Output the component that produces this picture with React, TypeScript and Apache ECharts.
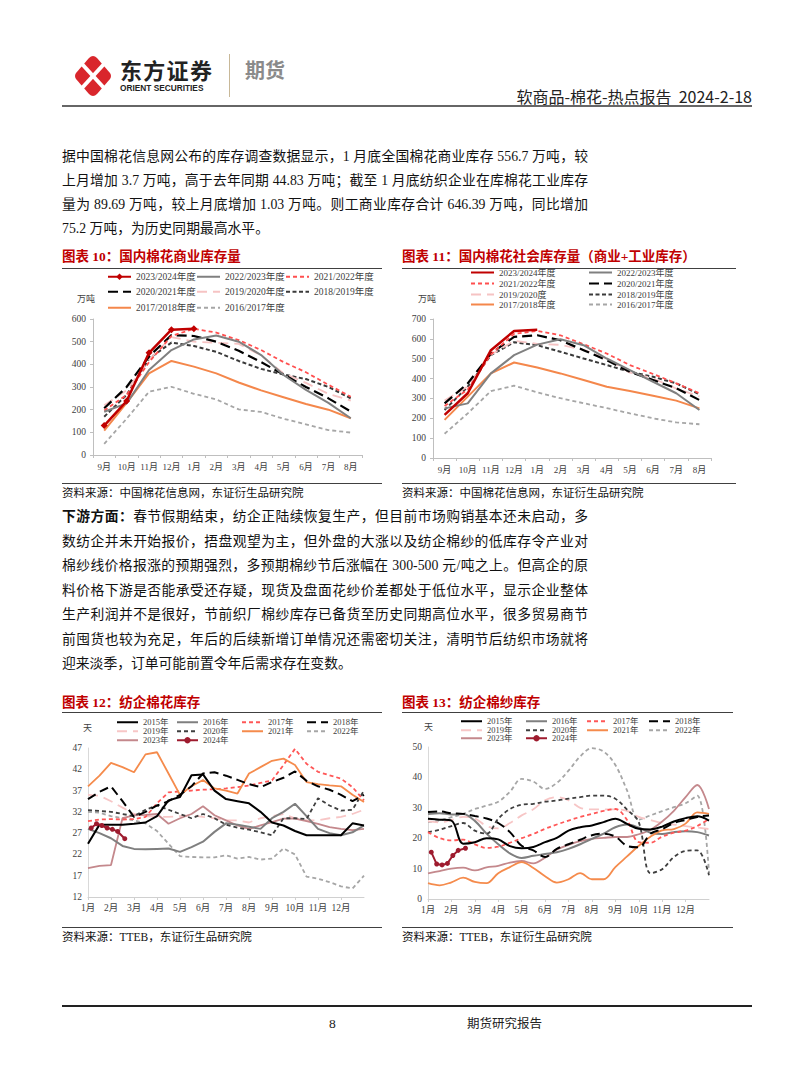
import React, { useEffect, useRef } from 'react';
import * as echarts from 'echarts';

const SERIF = '"Liberation Serif", "Times New Roman", "Noto Sans CJK SC", serif';
const SANS = '"Noto Sans CJK SC", "Noto Sans", sans-serif';

// ---------- 图表10 / 图表11 : 季度月份 ----------
const SEASON_MONTHS = ['9月', '10月', '11月', '12月', '1月', '2月', '3月', '4月', '5月', '6月', '7月', '8月'];

// 图表10 国内棉花商业库存量 (万吨)
const COMM_2324 = [130, 238, 451, 553, 557, null, null, null, null, null, null, null];
const COMM_2223 = [191, 228, 375, 463, 510, 527, 500, 441, 353, 287, 230, 162];
const COMM_2122 = [196, 265, 410, 525, 557, 540, 507, 463, 410, 365, 310, 257];
const COMM_2021 = [206, 300, 435, 529, 525, 500, 460, 410, 355, 300, 250, 192];
const COMM_1920 = [220, 285, 420, 520, 500, 495, 490, 440, 360, 318, 270, 240];
const COMM_1819 = [169, 265, 425, 496, 481, 455, 415, 380, 355, 335, 300, 250];
const COMM_1718 = [107, 230, 360, 415, 390, 360, 320, 285, 255, 225, 200, 162];
const COMM_1617 = [49, 160, 279, 301, 270, 245, 201, 190, 160, 135, 110, 99];

// 图表11 国内棉花社会库存量 (万吨)
const SOC_2324 = [217, 326, 543, 640, 646, null, null, null, null, null, null, null];
const SOC_2223 = [250, 275, 426, 518, 571, 598, 568, 501, 443, 384, 326, 242];
const SOC_2122 = [262, 345, 522, 625, 640, 618, 573, 526, 468, 423, 376, 326];
const SOC_2021 = [275, 376, 526, 610, 618, 593, 543, 493, 434, 393, 351, 292];
const SOC_1920 = [290, 360, 520, 590, 575, 570, 545, 500, 430, 400, 350, 310];
const SOC_1819 = [242, 359, 518, 583, 568, 535, 501, 468, 434, 409, 376, 321];
const SOC_1718 = [192, 309, 426, 481, 456, 426, 393, 359, 337, 314, 289, 250];
const SOC_1617 = [122, 225, 337, 364, 331, 301, 276, 251, 225, 200, 179, 170];

// ---------- 图表12 / 图表13 : 半月位置 (月) ----------
const HALF_MONTHS = [0, 0.5, 1, 1.5, 2, 2.5, 3, 3.5, 4, 4.5, 5, 5.5, 6, 6.5, 7, 7.5, 8, 8.5, 9, 9.5, 10, 10.5, 11, 11.5, 12];
const WEEKS_2024 = [0.14, 0.37, 0.6, 0.83, 1.06, 1.29, 1.6];
const MONTH_TICKS = ['1月', '2月', '3月', '4月', '5月', '6月', '7月', '8月', '9月', '10月', '11月', '12月'];

// 图表12 纺企棉花库存 (天)
const COT_2015 = [24.5, 29, 29, 29, 29.2, 29.5, 31, 34.7, 35.5, 40.6, 40.8, 37, 35, 34.5, 34, 32, 29.5, 28.8, 27.5, 26.5, 26.5, 26.5, 26.5, 29.3, 28.8];
const COT_2016 = [28, 27, 25.8, 24, 23.3, 23.2, 23.3, 23.4, 22.6, 23.7, 25, 27.3, 29.3, 29, 28.5, 28, 30.5, 32, 33.9, 31, 28, 27, 26.5, 27.2, 28.8];
const COT_2017 = [29.8, 30.2, 30.3, 30.2, 30.3, 30.8, 34, 36.6, 36.8, 37, 37.2, 37.3, 37.5, 37.8, 38.2, 38.8, 39.4, 43, 46.8, 43.3, 41.4, 40.6, 39.8, 37.8, 34.7];
const COT_2018 = [35, 36.7, 38, 34.5, 30.8, 32, 33.5, 34.5, 36, 38, 41, 41.3, 40.5, 39.5, 38.5, 37.8, 39, 40, 41.5, 39.3, 38, 37.2, 36, 34.5, 36];
const COT_2019 = [36, 35.8, 34.5, 33, 31.5, 31, 30.8, 30.8, 31, 31.2, 30.8, 30.5, 30, 30, 29.5, 30.5, 31, 31.5, 30.5, 30, 30, 30.5, 30.8, 31.5, 32.5];
const COT_2020 = [32.4, 32.2, 32, 31.5, 31, 32.5, 33.5, 32.5, 31.5, 30.5, 31.5, 30.5, 29, 28.3, 27.8, 27.2, 26.5, 30.5, 30.5, 30.3, 35.2, 33.5, 32.3, 32.5, 37];
const COT_2021 = [38, 40.5, 43.5, 42.5, 41.3, 45.5, 46, 41, 36, 38, 39.5, 37.5, 37, 36.3, 41, 42.5, 44, 44.5, 43, 39, 38.5, 38.2, 38, 36, 34.3];
const COT_2022 = [32, 31.8, 31, 30.5, 30, 29.3, 27.5, 24.5, 21.6, 21.4, 21.3, 21.3, 21.8, 21, 21.4, 20.8, 21, 23.4, 22, 16.8, 16.3, 15.5, 14.5, 14, 17];
const COT_2023 = [18.8, 19.3, 19.5, 30.5, 31.2, 31.3, 31.5, 29.2, 30.5, 31.5, 33.3, 31.2, 30, 28.8, 28, 28.8, 29.6, 30.4, 30.4, 29.8, 29.2, 28.4, 28, 27.7, 28];
const COT_2024 = [28.2, 29.2, 28.8, 28.2, 27.9, 27.4, 25.7];

// 图表13 纺企棉纱库存 (天)
const YRN_2015 = [26.4, 26.1, 25.8, 18.2, 18.7, 20, 19.6, 17.4, 16.7, 17.1, 18.7, 20.1, 22.5, 23.6, 24.2, 25.3, 26.4, 24.7, 23.1, 22.9, 23.8, 25.5, 26.6, 27.2, 25.8];
const YRN_2016 = [28, 28.2, 27.8, 28, 25.7, 21.5, 18, 15, 13.5, 14.2, 14.8, 15.4, 16.5, 18, 19.8, 21.5, 23.6, 24.5, 23.5, 21.8, 21.4, 22, 22.3, 22, 20.9];
const YRN_2017 = [22, 20, 19.3, 19.5, 18, 16.8, 17.2, 18.5, 20, 21.4, 23.1, 24.5, 25.8, 27, 28, 29, 29.6, 26, 18.7, 18.5, 20.5, 21.8, 22.5, 24, 26.4];
const YRN_2018 = [28.6, 28.8, 28.2, 28, 27.3, 26.5, 25, 22, 17.5, 16, 13.8, 16.5, 18, 19.5, 21, 21.5, 20.5, 17.5, 17, 21.5, 23, 25, 26, 27, 27.5];
const YRN_2019 = [25.5, 25.2, 26, 27, 26.5, 24, 23.2, 25, 27.5, 29.5, 32.5, 33.5, 32.5, 30, 29.5, 29.5, 29.5, 29, 27, 26, 25, 24.5, 24, 23.5, 23];
const YRN_2020 = [22, 22.8, 24, 25, 22.5, 21.5, 26.4, 29.6, 31, 31.3, 32, 32.4, 33, 33.5, 34, 34, 33, 29.4, 25.3, 8.5, 9.8, 13.8, 15.8, 16, 7.8];
const YRN_2021 = [5.2, 4.5, 5.5, 7, 5.6, 5.2, 8.5, 10.5, 12.1, 10.2, 7.5, 5.4, 6.5, 8.5, 6.5, 6.5, 10.5, 14, 17.5, 20.5, 22.6, 23, 24.8, 28.5, 28];
const YRN_2022 = [25.3, 25.8, 26.9, 28, 29.6, 30.7, 32, 35.3, 39.5, 38.6, 36.2, 38.2, 42.2, 46.9, 49.6, 48.5, 44.1, 35.7, 26.1, 27.5, 28.9, 30.2, 31.5, 34, 8.5];
const YRN_2023 = [8.4, 9.2, 10, 10.3, 9.4, 10.4, 10.9, 12, 12.5, 11.7, 13.6, 16.3, 17.8, 19, 19.8, 20.1, 20.4, 20.4, 21.3, 22.8, 25.5, 29, 33.5, 37.5, 29.6];
const YRN_2024 = [15.4, 11.5, 11.2, 11.7, 14.3, 16, 16.7];

// ---------- helpers ----------
const AXIS_GRAY = '#bfbfbf';
const LABEL_COLOR = '#404040';

function line(name: string, data: any[], color: string, width: number, dash: any, extra: any = {}) {
  return {
    name,
    type: 'line',
    data,
    symbol: 'none',
    connectNulls: false,
    lineStyle: { color, width, type: dash, cap: 'butt' },
    itemStyle: { color },
    emphasis: { disabled: true },
    ...extra,
  };
}

function legendAt(name: string, left: number, top: number, iw: number, fs: number, showSymbol = false) {
  const l: any = {
    data: [name],
    left,
    top,
    padding: 0,
    itemWidth: iw,
    itemHeight: 8,
    itemGap: 0,
    selectedMode: false,
    textStyle: { fontFamily: SERIF, fontSize: fs, color: LABEL_COLOR },
  };
  if (!showSymbol) l.itemStyle = { opacity: 0 };
  return l;
}

function pairs(xs: number[], ys: number[]) {
  return xs.map((x, i) => [x, ys[i]]);
}

function EChart({ option, left, top, width, height }: any) {
  const ref = useRef<HTMLDivElement>(null);
  useEffect(() => {
    const c = echarts.init(ref.current!, undefined, { renderer: 'svg' });
    c.setOption(option);
    return () => c.dispose();
  }, []);
  return <div ref={ref} style={{ position: 'absolute', left, top, width, height }} />;
}

// ---------- seasonal chart options ----------
function seasonAxes(gridTop: number, gridH: number, gridW: number, yMax: number) {
  return {
    grid: { left: 31, top: gridTop, width: gridW, height: gridH, containLabel: false },
    xAxis: {
      type: 'category',
      data: SEASON_MONTHS,
      boundaryGap: true,
      axisLine: { lineStyle: { color: AXIS_GRAY } },
      axisTick: { show: true, length: 3, lineStyle: { color: AXIS_GRAY } },
      axisLabel: { fontFamily: SERIF, fontSize: 9, color: LABEL_COLOR, margin: 7, interval: 0, hideOverlap: false },
      splitLine: { show: false },
    },
    yAxis: {
      type: 'value',
      min: 0,
      max: yMax,
      interval: 100,
      axisLine: { show: true, lineStyle: { color: AXIS_GRAY } },
      axisTick: { show: true, length: 3, lineStyle: { color: AXIS_GRAY } },
      axisLabel: { fontFamily: SERIF, fontSize: 9.5, color: LABEL_COLOR, margin: 7 },
      splitLine: { show: false },
    },
  };
}

const RED = '#c00000';
const RED_DASH = '#ff4f4f';
const GRAY = '#808080';
const LIGHT_PINK = '#f6c3c3';
const DARK = '#3a3a3a';
const ORANGE = '#f4874b';
const GRAY_DASH = '#a6a6a6';

const option10: any = {
  animation: false,
  ...seasonAxes(53, 136, 269, 600),
  legend: [
    legendAt('2023/2024年度', 45, 6, 23, 9.5, true),
    legendAt('2022/2023年度', 134, 6, 23, 9.5),
    legendAt('2021/2022年度', 223, 6, 23, 9.5),
    legendAt('2020/2021年度', 45, 21, 23, 9.5),
    legendAt('2019/2020年度', 134, 21, 23, 9.5),
    legendAt('2018/2019年度', 223, 21, 23, 9.5),
    legendAt('2017/2018年度', 45, 37, 23, 9.5),
    legendAt('2016/2017年度', 134, 37, 23, 9.5),
  ],
  graphic: [
    { type: 'text', left: 15, top: 28, style: { text: '万吨', fontFamily: SANS, fontSize: 9, fill: LABEL_COLOR } },
  ],
  series: [
    line('2016/2017年度', COMM_1617, GRAY_DASH, 1.8, [4, 3]),
    line('2017/2018年度', COMM_1718, ORANGE, 2),
    line('2018/2019年度', COMM_1819, DARK, 2, [4, 2.5]),
    line('2019/2020年度', COMM_1920, LIGHT_PINK, 1.8, [10, 6]),
    line('2020/2021年度', COMM_2021, '#000000', 2.2, [10, 5]),
    line('2021/2022年度', COMM_2122, RED_DASH, 1.8, [4, 3]),
    line('2022/2023年度', COMM_2223, GRAY, 2),
    line('2023/2024年度', COMM_2324, RED, 2.5, 'solid', { symbol: 'diamond', symbolSize: 7, showSymbol: true }),
  ],
};

const option11: any = {
  animation: false,
  ...seasonAxes(53, 139, 278, 700),
  legend: [
    legendAt('2023/2024年度', 68, 2, 23, 9),
    legendAt('2022/2023年度', 186, 2, 23, 9),
    legendAt('2021/2022年度', 68, 13, 23, 9),
    legendAt('2020/2021年度', 186, 13, 23, 9),
    legendAt('2019/2020度', 68, 24, 23, 9),
    legendAt('2018/2019年度', 186, 24, 23, 9),
    legendAt('2017/2018年度', 68, 34, 23, 9),
    legendAt('2016/2017年度', 186, 34, 23, 9),
  ],
  graphic: [
    { type: 'text', left: 16, top: 28, style: { text: '万吨', fontFamily: SANS, fontSize: 9, fill: LABEL_COLOR } },
  ],
  series: [
    line('2016/2017年度', SOC_1617, GRAY_DASH, 1.8, [4, 3]),
    line('2017/2018年度', SOC_1718, ORANGE, 2),
    line('2018/2019年度', SOC_1819, DARK, 2, [4, 2.5]),
    line('2019/2020度', SOC_1920, LIGHT_PINK, 1.8, [10, 6]),
    line('2020/2021年度', SOC_2021, '#000000', 2.2, [10, 5]),
    line('2021/2022年度', SOC_2122, RED_DASH, 1.8, [4, 3]),
    line('2022/2023年度', SOC_2223, GRAY, 2),
    line('2023/2024年度', SOC_2324, RED, 2.5),
  ],
};

// ---------- yearly chart options ----------
function yearAxes(gridLeft: number, gridTop: number, gridW: number, gridH: number, yMin: number, yMax: number, yInt: number) {
  return {
    grid: { left: gridLeft, top: gridTop, width: gridW, height: gridH, containLabel: false },
    xAxis: {
      type: 'value',
      min: 0,
      max: 12,
      interval: 1,
      axisLine: { show: true, lineStyle: { color: '#d0d0d0' } },
      axisTick: { show: true, length: 3, lineStyle: { color: '#d0d0d0' } },
      axisLabel: {
        fontFamily: SERIF,
        fontSize: 9.5,
        color: LABEL_COLOR,
        margin: 6,
        showMaxLabel: false,
        formatter: (v: number) => (v < 12 ? MONTH_TICKS[Math.round(v)] : ''),
      },
      splitLine: { show: false },
    },
    yAxis: {
      type: 'value',
      min: yMin,
      max: yMax,
      interval: yInt,
      axisLine: { show: true, lineStyle: { color: '#d9d9d9' } },
      axisTick: { show: false },
      axisLabel: { fontFamily: SERIF, fontSize: 9.5, color: LABEL_COLOR, margin: 6 },
      splitLine: { show: false },
    },
  };
}

const Y_COLORS = {
  y2015: '#000000',
  y2016: '#7f7f7f',
  y2017: '#ff5757',
  y2018: '#000000',
  y2019: '#f7c6c6',
  y2020: '#3f3f3f',
  y2021: '#f58b4c',
  y2022: '#a6a6a6',
  y2023: '#c4888c',
  y2024: '#9e1b2e',
};

function yearSeries(vals: number[][], last: number[], smooth: any) {
  const [a15, a16, a17, a18, a19, a20, a21, a22, a23] = vals;
  const s = (name: string, ys: number[], color: string, w: number, dash: any) =>
    line(name, pairs(HALF_MONTHS, ys), color, w, dash, { smooth });
  return [
    s('2022年', a22, Y_COLORS.y2022, 1.8, [4, 3]),
    s('2019年', a19, Y_COLORS.y2019, 1.8, [10, 6]),
    s('2023年', a23, Y_COLORS.y2023, 1.8, 'solid'),
    s('2016年', a16, Y_COLORS.y2016, 2, 'solid'),
    s('2020年', a20, Y_COLORS.y2020, 1.8, [4, 3]),
    s('2017年', a17, Y_COLORS.y2017, 1.8, [4, 3]),
    s('2021年', a21, Y_COLORS.y2021, 1.8, 'solid'),
    s('2018年', a18, Y_COLORS.y2018, 2, [9, 5]),
    s('2015年', a15, Y_COLORS.y2015, 2, 'solid'),
    line('2024年', pairs(WEEKS_2024, last), Y_COLORS.y2024, 2, 'solid', {
      symbol: 'circle',
      symbolSize: 5,
      showSymbol: true,
    }),
  ];
}

function yearLegends(cols: number[], rows: number[], iw: number) {
  const names = [
    ['2015年', '2016年', '2017年', '2018年'],
    ['2019年', '2020年', '2021年', '2022年'],
    ['2023年', '2024年'],
  ];
  const out: any[] = [];
  names.forEach((row, r) =>
    row.forEach((n, c) => out.push(legendAt(n, cols[c], rows[r], iw, 8.5, n === '2024年')))
  );
  return out;
}

const option12: any = {
  animation: false,
  ...yearAxes(26, 36, 276, 149, 12, 47, 5),
  legend: yearLegends([54, 114, 179, 244], [6, 15, 24], 21),
  graphic: [
    { type: 'text', left: 21, top: 11, style: { text: '天', fontFamily: SANS, fontSize: 9, fill: LABEL_COLOR } },
  ],
  series: yearSeries(
    [COT_2015, COT_2016, COT_2017, COT_2018, COT_2019, COT_2020, COT_2021, COT_2022, COT_2023],
    COT_2024,
    false
  ),
};

const option13: any = {
  animation: false,
  ...yearAxes(26, 35, 281, 152, 0, 50, 10),
  legend: yearLegends([58, 123, 184, 246], [5, 14, 22], 21),
  graphic: [
    { type: 'text', left: 22, top: 10, style: { text: '天', fontFamily: SANS, fontSize: 9, fill: LABEL_COLOR } },
  ],
  series: yearSeries(
    [YRN_2015, YRN_2016, YRN_2017, YRN_2018, YRN_2019, YRN_2020, YRN_2021, YRN_2022, YRN_2023],
    YRN_2024,
    0.35
  ),
};

// ---------- page text ----------
const P1 = [
  '据中国棉花信息网公布的库存调查数据显示，1 月底全国棉花商业库存 556.7 万吨，较',
  '上月增加 3.7 万吨，高于去年同期 44.83 万吨；截至 1 月底纺织企业在库棉花工业库存',
  '量为 89.69 万吨，较上月底增加 1.03 万吨。则工商业库存合计 646.39 万吨，同比增加',
  '75.2 万吨，为历史同期最高水平。',
];
const P2 = [
  '春节假期结束，纺企正陆续恢复生产，但目前市场购销基本还未启动，多',
  '数纺企并未开始报价，捂盘观望为主，但外盘的大涨以及纺企棉纱的低库存令产业对',
  '棉纱线价格报涨的预期强烈，多预期棉纱节后涨幅在 300-500 元/吨之上。但高企的原',
  '料价格下游是否能承受还存疑，现货及盘面花纱价差都处于低位水平，显示企业整体',
  '生产利润并不是很好，节前织厂棉纱库存已备货至历史同期高位水平，很多贸易商节',
  '前囤货也较为充足，年后的后续新增订单情况还需密切关注，清明节后纺织市场就将',
  '迎来淡季，订单可能前置令年后需求存在变数。',
];

function TextLine({ y, children, last }: any) {
  return (
    <div
      style={{
        position: 'absolute',
        left: 62,
        top: y - 10,
        width: 526,
        height: 20,
        lineHeight: '20px',
        fontSize: 13.8,
        fontFamily: SERIF,
        color: '#111',
        whiteSpace: 'nowrap',
        textAlign: last ? 'left' : 'justify',
        textAlignLast: last ? 'left' : 'justify',
      } as any}
    >
      {children}
    </div>
  );
}

function Title({ x, y, text }: any) {
  return (
    <div
      style={{
        position: 'absolute',
        left: x,
        top: y - 10,
        height: 20,
        lineHeight: '20px',
        fontSize: 13.5,
        fontWeight: 'bold',
        fontFamily: SERIF,
        color: '#c00000',
        whiteSpace: 'nowrap',
      }}
    >
      {text}
    </div>
  );
}

function HLine({ x1, x2, y, color = '#404040', h = 1 }: any) {
  return <div style={{ position: 'absolute', left: x1, top: y, width: x2 - x1, height: h, background: color }} />;
}

function Source({ x, y, text }: any) {
  return (
    <div
      style={{
        position: 'absolute',
        left: x,
        top: y - 9,
        height: 18,
        lineHeight: '18px',
        fontSize: 11.5,
        fontFamily: SERIF,
        color: '#111',
        whiteSpace: 'nowrap',
      }}
    >
      {text}
    </div>
  );
}

export default function App() {
  return (
    <div
      style={{
        position: 'absolute',
        left: 0,
        top: 0,
        width: 802,
        height: 1087,
        background: '#ffffff',
        overflow: 'hidden',
      }}
    >
      {/* header */}
      <svg style={{ position: 'absolute', left: 73, top: 54 }} width={40} height={44} viewBox="0 0 40 44">
        <path d="M20 2 Q22 2 24 4 L37 19 Q39 22 37 25 L24 40 Q20 44 16 40 L3 25 Q1 22 3 19 L16 4 Q18 2 20 2 Z" fill="#d9262c" />
        <line x1="9" y1="10" x2="31" y2="34" stroke="#ffffff" strokeWidth="4" />
        <line x1="31" y1="10" x2="9" y2="34" stroke="#ffffff" strokeWidth="4" />
      </svg>
      <div style={{ position: 'absolute', left: 120, top: 55, fontFamily: SANS, fontWeight: 'bold', fontSize: 22, letterSpacing: 1.3, color: '#222', lineHeight: '28px', whiteSpace: 'nowrap' }}>东方证券</div>
      <div style={{ position: 'absolute', left: 120, top: 83, fontFamily: '"Liberation Sans", Arial, sans-serif', fontWeight: 'bold', fontSize: 8.3, color: '#222', lineHeight: '10px', whiteSpace: 'nowrap' }}>ORIENT SECURITIES</div>
      <div style={{ position: 'absolute', left: 229, top: 54, width: 1, height: 43, background: '#c8b898' }} />
      <div style={{ position: 'absolute', left: 245, top: 57, fontFamily: SANS, fontWeight: 'bold', fontSize: 20, color: '#8a8a8a', lineHeight: '26px', whiteSpace: 'nowrap' }}>期货</div>
      <div style={{ position: 'absolute', right: 50, top: 85, fontFamily: SANS, fontSize: 16, color: '#222', lineHeight: '22px', whiteSpace: 'pre' }}>软商品-棉花-热点报告  2024-2-18</div>
      <HLine x1={62} x2={752} y={105} color="#666" h={2} />

      {/* paragraph 1 */}
      {P1.map((t, i) => (
        <TextLine key={'p1' + i} y={157 + i * 24} last={i === P1.length - 1}>{t}</TextLine>
      ))}

      {/* charts 10 / 11 */}
      <Title x={62} y={257} text="图表 10：国内棉花商业库存量" />
      <Title x={402} y={257} text="图表 11：国内棉花社会库存量（商业+工业库存）" />
      <HLine x1={62} x2={382} y={268} />
      <HLine x1={402} x2={736} y={268} />
      <EChart option={option10} left={62} top={266} width={322} height={214} />
      <EChart option={option11} left={402} top={266} width={334} height={214} />
      <HLine x1={62} x2={382} y={483} />
      <HLine x1={402} x2={736} y={483} />
      <Source x={62} y={493} text="资料来源：中国棉花信息网，东证衍生品研究院" />
      <Source x={402} y={493} text="资料来源：中国棉花信息网，东证衍生品研究院" />

      {/* paragraph 2 */}
      {P2.map((t, i) => (
        <TextLine key={'p2' + i} y={517 + i * 24.5} last={i === P2.length - 1}>
          {i === 0 ? <b>下游方面：</b> : null}
          {t}
        </TextLine>
      ))}

      {/* charts 12 / 13 */}
      <Title x={62} y={703} text="图表 12：纺企棉花库存" />
      <Title x={402} y={703} text="图表 13：纺企棉纱库存" />
      <HLine x1={62} x2={382} y={712} />
      <HLine x1={402} x2={733} y={712} />
      <EChart option={option12} left={62} top={712} width={322} height={212} />
      <EChart option={option13} left={402} top={712} width={332} height={212} />
      <HLine x1={62} x2={382} y={927} />
      <HLine x1={402} x2={733} y={927} />
      <Source x={62} y={937} text="资料来源：TTEB，东证衍生品研究院" />
      <Source x={402} y={937} text="资料来源：TTEB，东证衍生品研究院" />

      {/* footer */}
      <HLine x1={62} x2={752} y={1005} color="#222" h={1.5} />
      <div style={{ position: 'absolute', left: 329, top: 1014, fontFamily: SERIF, fontSize: 13.5, color: '#222', lineHeight: '20px' }}>8</div>
      <div style={{ position: 'absolute', left: 467, top: 1014, fontFamily: SERIF, fontSize: 12.5, color: '#222', lineHeight: '20px', whiteSpace: 'nowrap' }}>期货研究报告</div>
    </div>
  );
}
